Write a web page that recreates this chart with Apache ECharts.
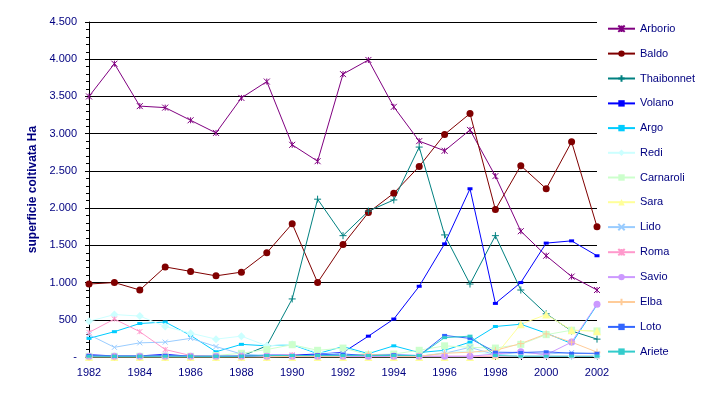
<!DOCTYPE html>
<html>
<head>
<meta charset="utf-8">
<script src="https://cdn.jsdelivr.net/npm/echarts@6/dist/echarts.min.js"></script>
<style>
  html, body { margin: 0; padding: 0; background: #fff; }
  #chart { width: 705px; height: 393px; }
</style>
</head>
<body>
<div id="chart"></div>
<script>
// anni 1982-2002
var years = ['1982','1983','1984','1985','1986','1987','1988','1989','1990','1991','1992',
             '1993','1994','1995','1996','1997','1998','1999','2000','2001','2002'];

var arborio    = [3500,3940,3370,3350,3180,3010,3480,3700,2850,2630,3800,3990,3360,2900,2770,3050,2430,1690,1360,1080,900];
var baldo      = [980,1000,900,1210,1150,1090,1140,1400,1790,1000,1510,1940,2200,2560,2990,3270,1980,2570,2260,2890,1750];
var thaibonnet = [0,0,0,0,0,0,10,150,780,2120,1630,1960,2110,2820,1640,980,1630,900,580,350,240];
var volano     = [30,15,15,35,10,10,10,25,25,40,60,280,510,950,1520,2260,720,1000,1530,1560,1360];
var argo       = [250,340,450,470,290,70,170,150,165,45,140,45,150,60,90,200,410,440,320,180,700];
var redi       = [480,570,550,410,320,240,280,150,170,60,40,20,10,10,60,80,30,20,20,10,10];
var carnaroli  = [10,10,10,10,10,20,50,100,165,90,120,30,40,90,150,130,120,170,300,360,350];
var sara       = [0,0,0,0,0,0,0,0,0,0,0,0,0,0,0,0,20,440,570,360,345];
var lido       = [300,130,190,200,250,140,40,20,20,10,10,10,10,10,50,130,30,60,40,60,40];
var roma       = [330,510,340,100,20,10,10,10,30,10,10,10,10,10,10,10,10,10,10,10,10];
var savio      = [10,10,10,10,10,10,10,10,10,10,10,10,10,10,10,10,40,70,30,200,710];
var elba       = [0,0,0,0,0,0,0,0,10,10,10,40,10,10,50,65,90,180,310,200,65];
var loto       = [20,10,10,20,10,10,10,20,20,30,40,20,30,20,290,250,65,60,70,50,50];
var ariete     = [10,10,10,10,10,10,10,20,20,20,20,20,20,20,260,280,20,10,10,10,10];

var yTicks = [0,500,1000,1500,2000,2500,3000,3500,4000,4500];

var navy = '#000080';

// marker stile Excel
var asterisk = 'path://M0,0L10,10M10,0L0,10M5,0L5,10';
var plus = 'path://M5,0L5,10M0,5L10,5';
var cross = 'path://M0,0L10,10M10,0L0,10';

function serie(name, data, color, symbol, size, stroke) {
  return {
    name: name,
    type: 'line',
    data: data,
    symbol: symbol,
    symbolSize: size,
    showAllSymbol: true,
    lineStyle: { color: color, width: 1 },
    itemStyle: stroke
      ? { color: 'none', borderColor: color, borderWidth: 1 }
      : { color: color, borderWidth: 0 },
    emphasis: { disabled: true },
    animation: false
  };
}

var series = [
  serie('Arborio', arborio, '#800080', asterisk, 6, true),
  serie('Baldo', baldo, '#800000', 'circle', 7),
  serie('Thaibonnet', thaibonnet, '#008080', plus, 7, true),
  serie('Volano', volano, '#0000FF', 'rect', [5, 3]),
  serie('Argo', argo, '#00CCFF', 'rect', [5, 3]),
  serie('Redi', redi, '#CCFFFF', 'diamond', 8),
  serie('Carnaroli', carnaroli, '#CCFFCC', 'rect', 7),
  serie('Sara', sara, '#FFFF99', 'triangle', 8),
  serie('Lido', lido, '#99CCFF', cross, 5, true),
  serie('Roma', roma, '#FF99CC', asterisk, 5, true),
  serie('Savio', savio, '#CC99FF', 'circle', 7),
  serie('Elba', elba, '#FFCC99', plus, 7, true),
  serie('Loto', loto, '#3366FF', 'rect', [5, 3]),
  serie('Ariete', ariete, '#33CCCC', 'rect', [5, 3])
];

var chart = echarts.init(document.getElementById('chart'), null, { renderer: 'canvas' });

chart.setOption({
  backgroundColor: '#fff',
  animation: false,
  grid: { left: 89, right: 108, top: 22, bottom: 36 },
  legend: {
    orient: 'vertical',
    left: 607,
    top: 23,
    padding: 0,
    itemWidth: 27,
    itemHeight: 8,
    itemGap: 13.7,
    textStyle: { color: navy, fontSize: 11, fontFamily: 'Liberation Sans, Arial' },
    data: series.map(function (s) { return s.name; })
  },
  xAxis: {
    type: 'category',
    data: years,
    boundaryGap: false,
    axisLine: { lineStyle: { color: '#000', width: 1 } },
    axisTick: { show: true, interval: 0, length: 3, lineStyle: { color: '#000' } },
    axisLabel: {
      interval: 1,
      color: navy,
      fontSize: 11,
      fontFamily: 'Liberation Sans, Arial',
      margin: 10
    },
    splitLine: { show: false }
  },
  yAxis: {
    type: 'value',
    min: yTicks[0],
    max: yTicks[yTicks.length - 1],
    interval: 500,
    name: 'superficie coltivata Ha',
    nameLocation: 'middle',
    nameGap: 49,
    nameTextStyle: { color: navy, fontSize: 12, fontWeight: 'bold', fontFamily: 'Liberation Sans, Arial' },
    axisLine: { show: true, lineStyle: { color: '#000', width: 1 } },
    axisTick: { show: true, length: 4, lineStyle: { color: '#000' } },
    minorTick: { show: true, splitNumber: 5, length: 3, lineStyle: { color: '#000' } },
    axisLabel: {
      color: navy,
      fontSize: 11,
      fontFamily: 'Liberation Sans, Arial',
      margin: 12,
      formatter: function (v) {
        if (v === 0) return '-';
        return String(v).replace(/\B(?=(\d{3})+(?!\d))/g, '.');
      }
    },
    splitLine: { show: true, lineStyle: { color: '#000', width: 1 } }
  },
  series: series
});
</script>
</body>
</html>
